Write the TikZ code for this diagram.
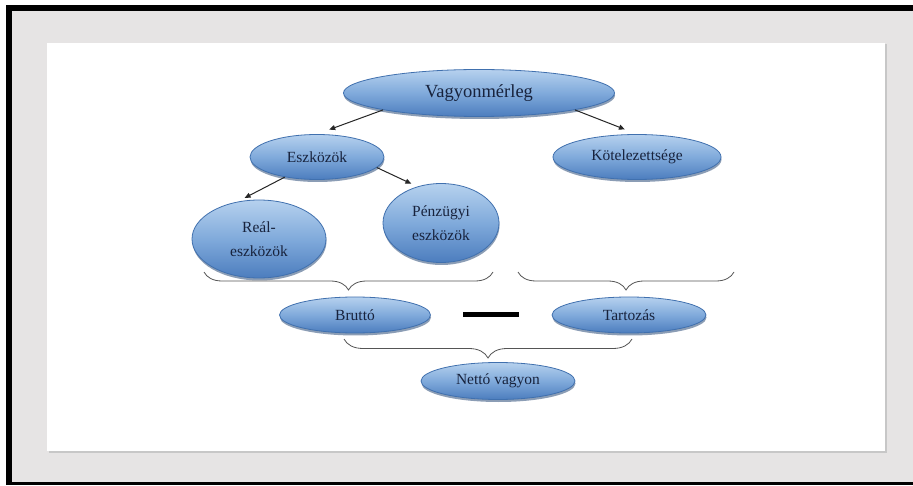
\documentclass[tikz,border=0pt]{standalone}
\usepackage{fontspec}
\setmainfont{Liberation Serif}
\usepackage{xcolor}
\usepackage{tikz}
\usetikzlibrary{arrows.meta}
\usetikzlibrary{shapes.geometric, shadows, decorations.pathreplacing}
\definecolor{blob top}{HTML}{B6D1EE}
\definecolor{blob mid}{HTML}{80AADB}
\definecolor{blob bottom}{HTML}{4C7DBE}
\definecolor{blob edge}{HTML}{4070AE}
\definecolor{blob text}{HTML}{18233D}
\definecolor{page grey}{HTML}{E6E4E4}
\definecolor{brace grey}{HTML}{555555}
\tikzset{
blob/.style = { ellipse, draw = blob edge, line width = 0.8pt, top color = blob top, bottom color = blob bottom, middle color = blob mid, text = blob text, inner sep = 0pt, align = center, font = \fontsize{15.5}{24}\selectfont, drop shadow = {shadow xshift = 0.5pt, shadow yshift = -2.5pt, fill = blob edge!70!black, opacity = 0.55} },
link/.style = { draw = black!85, line width = 1pt, -{Triangle[length = 6pt, width = 5pt]} },
group brace/.style = { draw = brace grey, line width = 0.8pt, decorate, decoration = {brace, mirror, amplitude = #1} },
group brace/.default = 18pt,
}

\begin{document}
\begin{tikzpicture}[x = 1pt, y = -1pt]
    % frame and page
    \fill[white] (0,0) rectangle (913,486);
    \fill[black] (6,5) rectangle (913,485);
    \fill[page grey] (12,11) rectangle (913,482);
    \fill[black!22] (48.5,44.5) rectangle (886.5,452.5);
    \fill[white] (47,43) rectangle (885,451);
    \useasboundingbox (0,0) rectangle (913,486);
    \node[blob, minimum width = 271pt, minimum height = 47pt, font = \fontsize{18.5}{22}\selectfont] (merleg) at (479,93) {Vagyonmérleg};
    \node[blob, minimum width = 134pt, minimum height = 45pt] (eszk) at (317,157) {Eszközök};
    \node[blob, minimum width = 168pt, minimum height = 45pt] (kotel) at (637,157) {Kötelezettsége};
    \node[blob, minimum width = 134pt, minimum height = 78pt] (real) at (259,239) {Reál-\\eszközök};
    \node[blob, minimum width = 116pt, minimum height = 79pt] (penz) at (441,223) {Pénzügyi\\eszközök};
    \node[blob, minimum width = 151pt, minimum height = 36pt] (brutto) at (355,315) {Bruttó};
    \node[blob, minimum width = 154pt, minimum height = 36pt] (tartozas) at (629,315) {Tartozás};
    \node[blob, minimum width = 154pt, minimum height = 37pt] (netto) at (498,381) {Nettó vagyon};
    \draw[link, shorten > = 13pt] (merleg.190) -- (eszk.north);
    \draw[link, shorten > = 13pt] (merleg.350) -- (kotel.north);
    \draw[link, shorten > = 8pt] (eszk.212) -- (real.120);
    \draw[link, shorten > = 6.5pt] (eszk.350) -- (penz.123);
    % braces
    \coordinate (assets left) at (204,272);
    \coordinate (assets right) at (493,272);
    \coordinate (debts left) at (518,272);
    \coordinate (debts right) at (734,272);
    \coordinate (net left) at (344,339);
    \coordinate (net right) at (632,339);
    \draw[group brace] (assets left) -- (assets right);
    \draw[group brace] (debts left) -- (debts right);
    \draw[group brace = 19pt] (net left) -- (net right);
    \draw[line width = 5pt] (463,314.5) -- (519,314.5);
\end{tikzpicture}
\end{document}
